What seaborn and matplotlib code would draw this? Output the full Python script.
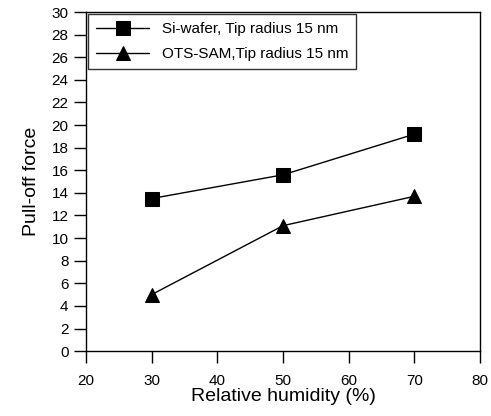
import numpy as np
import pandas as pd
import seaborn as sns
import matplotlib.pyplot as plt

humidity = [30, 50, 70]
si_wafer = [13.5, 15.6, 19.2]
ots_sam = [5.0, 11.1, 13.7]
labels = ["Si-wafer, Tip radius 15 nm", "OTS-SAM,Tip radius 15 nm"]

df = pd.DataFrame({
    "humidity": humidity * 2,
    "force": si_wafer + ots_sam,
    "sample": [labels[0]] * 3 + [labels[1]] * 3,
})

sns.set_style("ticks")
plt.rcParams["font.family"] = ["Liberation Sans", "DejaVu Sans"]
plt.rcParams["text.color"] = "black"
plt.rcParams["axes.labelcolor"] = "black"

fig, ax = plt.subplots(figsize=(4.91, 4.16), dpi=100)
sns.lineplot(data=df, x="humidity", y="force", hue="sample", style="sample",
             markers=["s", "^"], dashes=False, palette=["black", "black"],
             markersize=10.5, markeredgecolor="black", linewidth=1, ax=ax)

ax.set_xlim(20, 80)
ax.set_ylim(0, 30)
ax.set_xticks(range(20, 81, 10))
ax.set_yticks(range(0, 31, 2))
ax.tick_params(direction="out", length=8.5, width=1, labelsize=11, colors="black")
ax.tick_params(axis="x", pad=8)
ax.tick_params(axis="y", pad=4)
for s in ax.spines.values():
    s.set_linewidth(1)
    s.set_color("black")
ax.set_xlabel("Relative humidity (%)", fontsize=14, labelpad=0, color="black")
ax.set_ylabel("Pull-off force", fontsize=14, labelpad=8, color="black")

leg = ax.legend(loc="upper left", fontsize=11, frameon=True, fancybox=False,
                edgecolor="black", borderaxespad=0.15, handlelength=3.5,
                labelspacing=0.75, borderpad=0.5)
leg.get_frame().set_linewidth(1)
for t in leg.get_texts():
    t.set_color("black")

fig.subplots_adjust(left=0.175, right=0.978, top=0.971, bottom=0.156)
fig.savefig("out.png", dpi=100)
